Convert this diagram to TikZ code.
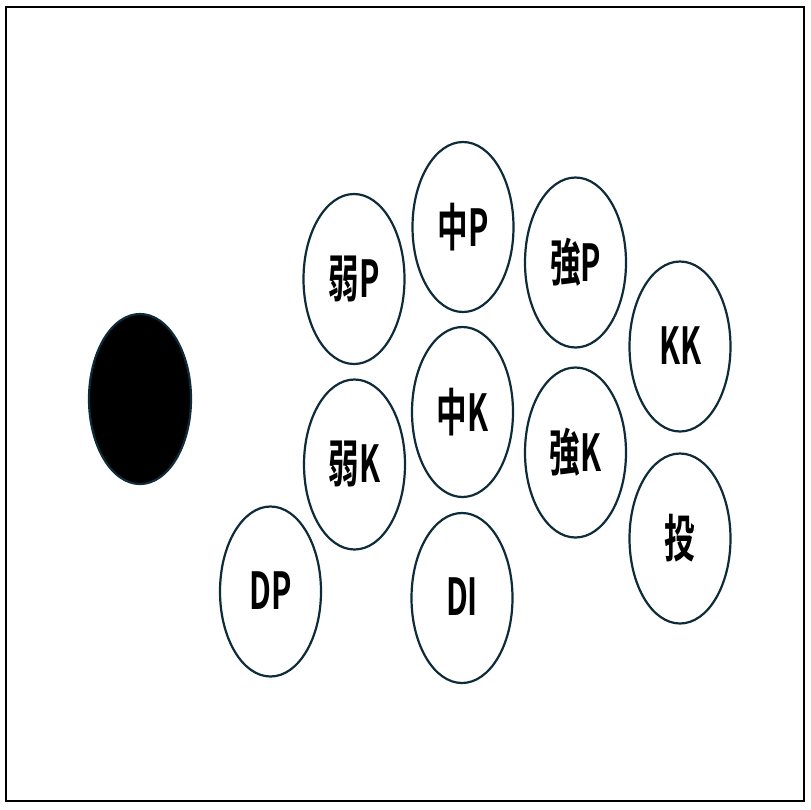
\documentclass[tikz,border=0pt]{standalone}
\usepackage{fontspec}
\usepackage{graphicx}
\newfontfamily\cjkfont[BoldFont={Noto Sans CJK JP Bold}]{Noto Sans CJK JP}
\definecolor{edge}{HTML}{0E2B3A}
\tikzset{
  btn/.style={ellipse, draw=edge, line width=2.2pt, fill=white, minimum width=101pt, minimum height=170pt, inner sep=0pt, font=\cjkfont\bfseries\fontsize{51}{51}\selectfont},
  ballbtn/.style={ellipse, draw=edge, line width=2.2pt, fill=black, minimum width=102pt, minimum height=170pt, inner sep=0pt},
}
\newcommand{\lbl}[1]{\raisebox{2pt}{\scalebox{0.6}[1]{#1}}}
\usetikzlibrary{shapes.geometric}
\begin{document}
\begin{tikzpicture}[x=1pt,y=-1pt]
\useasboundingbox (0,0) rectangle (810,810);
\draw[line width=2pt, black] (5.5,7.5) rectangle (804,801);
\node[ballbtn] (ball) at (140,399) {};
\node[btn] (wp) at (354,279) {\lbl{弱P}};
\node[btn] (mp) at (463,227) {\lbl{中P}};
\node[btn] (sp) at (575.5,262.5) {\lbl{強P}};
\node[btn] (kk) at (680,346.5) {\lbl{KK}};
\node[btn] (wk) at (354.5,464.5) {\lbl{弱K}};
\node[btn] (mk) at (462.5,412) {\lbl{中K}};
\node[btn] (sk) at (575.5,452.5) {\lbl{強K}};
\node[btn] (th) at (680,538.5) {\lbl{投}};
\node[btn] (dp) at (270.5,591.5) {\lbl{DP}};
\node[btn] (di) at (462,598) {\lbl{DI}};
\end{tikzpicture}
\end{document}
